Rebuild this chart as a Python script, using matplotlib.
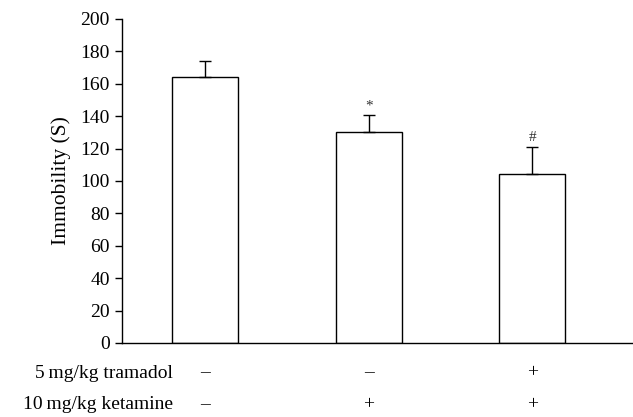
import numpy as np
import matplotlib
matplotlib.use("Agg")
import matplotlib.pyplot as plt

# Daten
groups     = ["Kontrolle", "Ketamin", "Ketamin + Tramadol"]
immobility = [164, 130, 104]
sem        = [10, 10.5, 17]
marks      = ["", "*", "#"]
tramadol   = ["\u2013", "\u2013", "+"]
ketamine   = ["\u2013", "+", "+"]
row_labels = ["5\u2009mg/kg tramadol", "10\u2009mg/kg ketamine"]
yticks     = np.arange(0, 201, 20)

plt.rcParams["font.family"] = ["Liberation Serif", "DejaVu Serif"]
plt.rcParams["font.size"] = 14

fig = plt.figure(figsize=(6.33, 4.17), dpi=100)
ax = fig.add_axes([0.1935, 0.1775, 0.8065, 0.777])

x = np.arange(len(groups))
ax.bar(x, immobility, width=0.404, color="white", edgecolor="black", lw=1.0, zorder=2)
ax.errorbar(x, immobility, yerr=[np.zeros(len(sem)), sem], fmt="none",
            ecolor="black", elinewidth=1.0, capsize=4, capthick=1.0, zorder=3)

for xi, yi, e, m in zip(x, immobility, sem, marks):
    if m:
        ax.text(xi, yi + e + 2, m, ha="center", va="bottom", fontsize=11, color="#333333")

ax.set_xlim(-0.508, 2.618)
ax.set_ylim(0, 200)
ax.set_yticks(yticks)
ax.set_xticks([])
ax.set_ylabel("Immobility (S)", fontsize=15.5, labelpad=7)
ax.spines["top"].set_visible(False)
ax.spines["right"].set_visible(False)
ax.spines["bottom"].set_linewidth(1.0)
ax.spines["left"].set_linewidth(1.0)
ax.tick_params(axis="y", direction="out", length=5, width=1.0, pad=4, labelsize=14)

# Tabelle unter der Achse
trans = ax.get_xaxis_transform()
for row, (lab, signs) in enumerate(zip(row_labels, [tramadol, ketamine])):
    yy = -0.093 - row * 0.096
    ax.text(0.098, yy, lab, transform=ax.transAxes, ha="right", va="center",
            fontsize=14, clip_on=False)
    for xi, s in zip(x, signs):
        ax.text(xi, yy, s, transform=trans, ha="center", va="center",
                fontsize=14, clip_on=False)

fig.savefig("out.png", dpi=100)
